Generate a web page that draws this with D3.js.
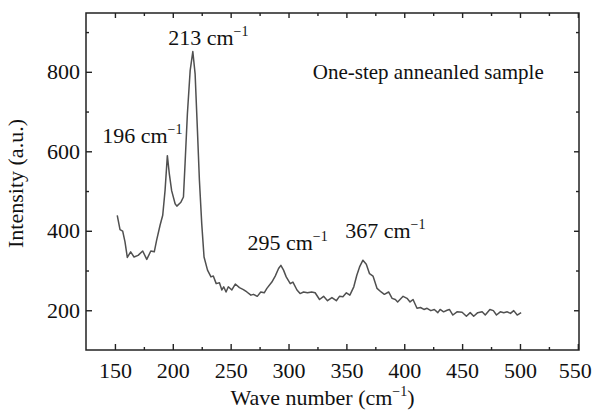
<!DOCTYPE html>
<html>
<head>
<meta charset="utf-8">
<script src="https://cdn.jsdelivr.net/npm/d3@7"></script>
<style>
body { margin: 0; background: #fff; }
</style>
</head>
<body>
<div id="chart"></div>
<script>
// Raman spectrum, values
var waveNumbers = [152, 154.4, 156.7, 158.7, 160.7, 163.6, 166.5, 170, 174, 177.5, 181, 184, 186, 189, 191.3,
    193.3, 195.3, 197, 199, 202, 203.5, 207, 209.2, 210.6, 212.6, 215, 217.3, 219.3, 221.3, 223, 225, 227,
    230, 233, 235, 237.5, 240.3, 242.4, 244, 246, 248, 251, 254, 257.6, 261, 264, 267.5, 269.7, 273, 276,
    279, 281.3, 285.6, 288.5, 291.4, 293.4, 295.7, 298, 301.5, 303.8, 307.3, 310, 313, 316.4, 320, 323,
    326.8, 330.3, 333.7, 337.5, 341.3, 344, 347, 350, 353, 356.4, 359, 361.4, 364.3, 367.2, 370, 373,
    376.5, 380, 382.8, 386.5, 389.5, 392.3, 394.3, 399, 402.4, 405, 407.6, 411, 414, 417, 419.7, 423,
    426, 429, 431, 434, 437, 439, 442, 445.6, 450, 453.7, 457, 460, 463.5, 467.3, 470, 474, 477, 479.7,
    483, 486, 489, 491.8, 494.6, 497.6, 501];
var intensities = [439, 403, 399, 372, 333, 347, 334, 338, 349, 328, 349, 347, 376, 414, 439,
    501, 589, 543, 501, 468, 462, 472, 485, 569, 694, 803, 851, 794, 652, 527, 418, 334,
    301, 284, 286, 267, 269, 251, 259, 246, 259, 251, 266, 257, 252, 246, 238, 240, 235, 246,
    244, 255, 271, 286, 305, 313, 301, 284, 267, 271, 251, 242, 246, 244, 246, 244,
    227, 235, 224, 232, 224, 235, 234, 244, 238, 259, 288, 309, 326, 316, 292, 286,
    255, 246, 240, 246, 230, 227, 221, 235, 230, 221, 227, 205, 207, 202, 205, 199,
    202, 194, 202, 196, 200, 202, 188, 196, 195, 185, 194, 185, 194, 196, 188, 202, 199, 188,
    196, 194, 196, 192, 199, 188, 194];

var xMajorTicks = [150, 200, 250, 300, 350, 400, 450, 500, 550];
var xMinorTicks = [175, 225, 275, 325, 375, 425, 475, 525];
var yMajorTicks = [200, 400, 600, 800];
var yMinorTicks = [300, 500, 700, 900];

var peakLabels = ["196", "213", "295", "367"];
var sampleName = "One-step anneanled sample";
var xTitle = "Wave number (cm";
var yTitle = "Intensity (a.u.)";

var serif = "'Times New Roman', 'Liberation Serif', 'DejaVu Serif', serif";

var data = waveNumbers.map(function(d, i) { return { x: d, y: intensities[i] }; });

var margin = { top: 13, right: 14, bottom: 61, left: 86 };
var width = 593 - margin.left - margin.right,
    height = 411 - margin.top - margin.bottom;

var svg = d3.select("#chart").append("svg")
    .attr("width", 593)
    .attr("height", 411)
    .style("font-family", serif)
  .append("g")
    .attr("transform", "translate(" + margin.left + "," + margin.top + ")");

var x = d3.scaleLinear().domain([125, 551]).range([0, width]);
var y = d3.scaleLinear().domain([100, 948]).range([height, 0]);

// axes: ticks point inward on all four sides
function styleAxis(g) {
    g.attr("font-family", serif);
    g.select(".domain").remove();
    g.selectAll(".tick line").attr("stroke", "#222").attr("stroke-width", 1.4);
    g.selectAll(".tick text")
        .style("font-family", serif)
        .style("font-size", "22px")
        .attr("fill", "#111");
}

var xAxisG = svg.append("g")
    .attr("transform", "translate(0," + height + ")")
    .call(d3.axisBottom(x).tickValues(xMajorTicks).tickSize(-6).tickPadding(12).tickFormat(d3.format("d")))
    .call(styleAxis);
// last label sits right at the page edge, pull it in a little
xAxisG.selectAll(".tick text").filter(function(d) { return d === 550; }).attr("dx", -3);

svg.append("g")
    .attr("transform", "translate(0," + height + ")")
    .call(d3.axisBottom(x).tickValues(xMinorTicks).tickSize(-3).tickFormat(""))
    .call(styleAxis);
svg.append("g")
    .call(d3.axisTop(x).tickValues(xMajorTicks).tickSize(-5).tickFormat(""))
    .call(styleAxis);
svg.append("g")
    .call(d3.axisTop(x).tickValues(xMinorTicks).tickSize(-3).tickFormat(""))
    .call(styleAxis);

svg.append("g")
    .call(d3.axisLeft(y).tickValues(yMajorTicks).tickSize(-6).tickPadding(6).tickFormat(d3.format("d")))
    .call(styleAxis);
svg.append("g")
    .call(d3.axisLeft(y).tickValues(yMinorTicks).tickSize(-3).tickFormat(""))
    .call(styleAxis);
svg.append("g")
    .attr("transform", "translate(" + width + ",0)")
    .call(d3.axisRight(y).tickValues(yMajorTicks).tickSize(-5).tickFormat(""))
    .call(styleAxis);
svg.append("g")
    .attr("transform", "translate(" + width + ",0)")
    .call(d3.axisRight(y).tickValues(yMinorTicks).tickSize(-3).tickFormat(""))
    .call(styleAxis);

// frame
svg.append("rect")
    .attr("width", width)
    .attr("height", height)
    .attr("fill", "none")
    .attr("stroke", "#222")
    .attr("stroke-width", 1.5);

// spectrum
var line = d3.line()
    .x(function(d) { return x(d.x); })
    .y(function(d) { return y(d.y); });

svg.append("path")
    .datum(data)
    .attr("d", line)
    .attr("fill", "none")
    .attr("stroke", "#505050")
    .attr("stroke-width", 1.5)
    .attr("stroke-linejoin", "round");

// peak labels, placed in data units
var labelSpots = [[139, 620], [196, 868], [264.5, 351], [349, 382]];

function addWaveLabel(sel, txt) {
    sel.append("tspan").text(txt);
    sel.append("tspan").text("\u22121").style("font-size", "14px").attr("dy", -9);
}

peakLabels.forEach(function(p, i) {
    var t = svg.append("text")
        .attr("x", x(labelSpots[i][0]))
        .attr("y", y(labelSpots[i][1]))
        .style("font-family", serif)
        .style("font-size", "22px")
        .attr("fill", "#111");
    addWaveLabel(t, p + " cm");
});

svg.append("text")
    .attr("x", x(321))
    .attr("y", y(783))
    .style("font-family", serif)
    .style("font-size", "21px")
    .attr("fill", "#111")
    .text(sampleName);

// axis titles
var xt = svg.append("text")
    .attr("x", width / 2 - 10)
    .attr("y", height + 55)
    .attr("text-anchor", "middle")
    .style("font-family", serif)
    .style("font-size", "22px")
    .attr("fill", "#111");
xt.append("tspan").text(xTitle);
xt.append("tspan").text("\u22121").style("font-size", "14px").attr("dy", -9);
xt.append("tspan").text(")").attr("dy", 9);

svg.append("text")
    .attr("transform", "translate(" + (-63) + "," + (height / 2 + 2) + ") rotate(-90)")
    .attr("text-anchor", "middle")
    .style("font-family", serif)
    .style("font-size", "22px")
    .attr("fill", "#111")
    .text(yTitle);
</script>
</body>
</html>
